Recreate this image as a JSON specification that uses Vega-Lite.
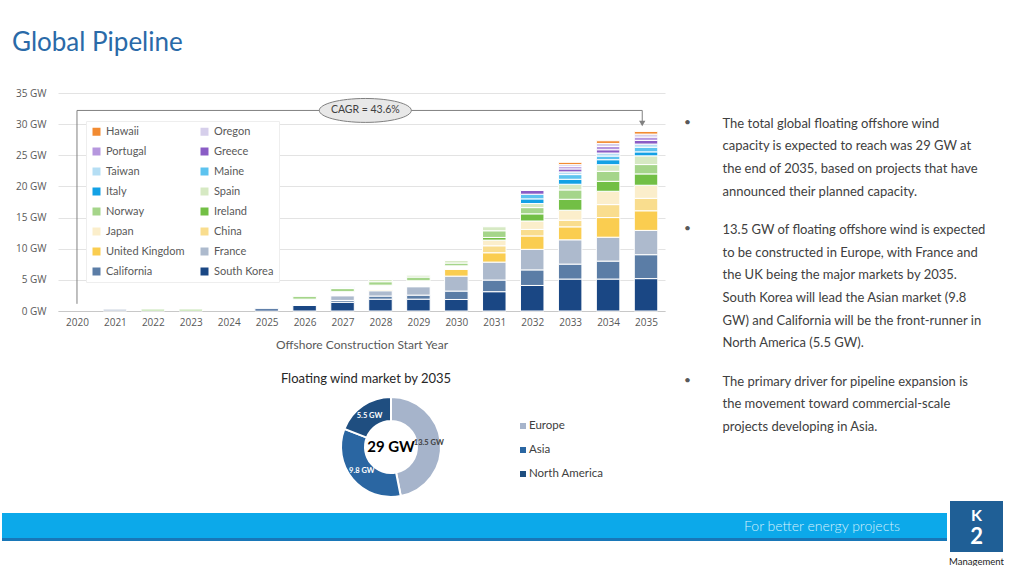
{
  "$schema": "https://vega.github.io/schema/vega-lite/v6.json",
  "background": "white",
  "padding": {"left": 0, "right": 0, "top": 30, "bottom": 0},
  "title": {"text": "Global Pipeline", "anchor": "start", "frame": "group", "dx": 10, "font": "Lato", "fontSize": 26, "fontWeight": "normal", "color": "#2A6AA8", "offset": 32},
  "config": {"view": {"stroke": null}, "font": "Lato", "text": {"font": "Lato"}},
  "datasets": {
    "regionOrder": [
      {"region": "South Korea", "rank": 1}, {"region": "California", "rank": 2}, {"region": "France", "rank": 3},
      {"region": "United Kingdom", "rank": 4}, {"region": "China", "rank": 5}, {"region": "Japan", "rank": 6},
      {"region": "Other", "rank": 7}, {"region": "Ireland", "rank": 8}, {"region": "Norway", "rank": 9},
      {"region": "Spain", "rank": 10}, {"region": "Italy", "rank": 11}, {"region": "Maine", "rank": 12},
      {"region": "Taiwan", "rank": 13}, {"region": "Greece", "rank": 14}, {"region": "Portugal", "rank": 15},
      {"region": "Oregon", "rank": 16}, {"region": "Hawaii", "rank": 17}
    ],
    "bars": [
      {"year": 2021, "region": "France", "gw": 0.3},
      {"year": 2022, "region": "Norway", "gw": 0.3},
      {"year": 2023, "region": "Norway", "gw": 0.3},
      {"year": 2025, "region": "South Korea", "gw": 0.35},
      {"year": 2026, "region": "South Korea", "gw": 0.9},
      {"year": 2026, "region": "Other", "gw": 1.0},
      {"year": 2026, "region": "Norway", "gw": 0.45},
      {"year": 2027, "region": "South Korea", "gw": 1.4},
      {"year": 2027, "region": "California", "gw": 0.3},
      {"year": 2027, "region": "France", "gw": 0.75},
      {"year": 2027, "region": "Other", "gw": 0.65},
      {"year": 2027, "region": "Norway", "gw": 0.5},
      {"year": 2027, "region": "Spain", "gw": 0.15},
      {"year": 2027, "region": "Taiwan", "gw": 0.15},
      {"year": 2028, "region": "South Korea", "gw": 1.9},
      {"year": 2028, "region": "California", "gw": 0.5},
      {"year": 2028, "region": "France", "gw": 0.85},
      {"year": 2028, "region": "United Kingdom", "gw": 0.15},
      {"year": 2028, "region": "Other", "gw": 0.75},
      {"year": 2028, "region": "Norway", "gw": 0.55},
      {"year": 2028, "region": "Spain", "gw": 0.35},
      {"year": 2029, "region": "South Korea", "gw": 1.9},
      {"year": 2029, "region": "California", "gw": 0.65},
      {"year": 2029, "region": "France", "gw": 1.35},
      {"year": 2029, "region": "Other", "gw": 0.95},
      {"year": 2029, "region": "Norway", "gw": 0.6},
      {"year": 2029, "region": "Spain", "gw": 0.3},
      {"year": 2030, "region": "South Korea", "gw": 1.85},
      {"year": 2030, "region": "California", "gw": 1.35},
      {"year": 2030, "region": "France", "gw": 2.4},
      {"year": 2030, "region": "United Kingdom", "gw": 1.1},
      {"year": 2030, "region": "Other", "gw": 0.55},
      {"year": 2030, "region": "Norway", "gw": 0.45},
      {"year": 2030, "region": "Spain", "gw": 0.4},
      {"year": 2031, "region": "South Korea", "gw": 3.1},
      {"year": 2031, "region": "California", "gw": 1.87},
      {"year": 2031, "region": "France", "gw": 2.88},
      {"year": 2031, "region": "United Kingdom", "gw": 1.5},
      {"year": 2031, "region": "China", "gw": 1.12},
      {"year": 2031, "region": "Japan", "gw": 0.91},
      {"year": 2031, "region": "Ireland", "gw": 0.43},
      {"year": 2031, "region": "Norway", "gw": 1.07},
      {"year": 2031, "region": "Spain", "gw": 0.64},
      {"year": 2032, "region": "South Korea", "gw": 4.1},
      {"year": 2032, "region": "California", "gw": 2.5},
      {"year": 2032, "region": "France", "gw": 3.3},
      {"year": 2032, "region": "United Kingdom", "gw": 2.15},
      {"year": 2032, "region": "China", "gw": 1.05},
      {"year": 2032, "region": "Japan", "gw": 1.35},
      {"year": 2032, "region": "Ireland", "gw": 1.15},
      {"year": 2032, "region": "Norway", "gw": 1.0},
      {"year": 2032, "region": "Spain", "gw": 0.65},
      {"year": 2032, "region": "Italy", "gw": 0.75},
      {"year": 2032, "region": "Maine", "gw": 0.75},
      {"year": 2032, "region": "Greece", "gw": 0.6},
      {"year": 2033, "region": "South Korea", "gw": 5.13},
      {"year": 2033, "region": "California", "gw": 2.4},
      {"year": 2033, "region": "France", "gw": 3.9},
      {"year": 2033, "region": "United Kingdom", "gw": 2.08},
      {"year": 2033, "region": "China", "gw": 1.07},
      {"year": 2033, "region": "Japan", "gw": 1.6},
      {"year": 2033, "region": "Ireland", "gw": 1.76},
      {"year": 2033, "region": "Norway", "gw": 1.5},
      {"year": 2033, "region": "Spain", "gw": 0.91},
      {"year": 2033, "region": "Italy", "gw": 0.8},
      {"year": 2033, "region": "Maine", "gw": 0.75},
      {"year": 2033, "region": "Taiwan", "gw": 0.43},
      {"year": 2033, "region": "Greece", "gw": 0.48},
      {"year": 2033, "region": "Portugal", "gw": 0.37},
      {"year": 2033, "region": "Oregon", "gw": 0.32},
      {"year": 2033, "region": "Hawaii", "gw": 0.37},
      {"year": 2034, "region": "South Korea", "gw": 5.13},
      {"year": 2034, "region": "California", "gw": 2.88},
      {"year": 2034, "region": "France", "gw": 3.84},
      {"year": 2034, "region": "United Kingdom", "gw": 3.15},
      {"year": 2034, "region": "China", "gw": 2.08},
      {"year": 2034, "region": "Japan", "gw": 2.14},
      {"year": 2034, "region": "Ireland", "gw": 1.6},
      {"year": 2034, "region": "Norway", "gw": 1.6},
      {"year": 2034, "region": "Spain", "gw": 1.07},
      {"year": 2034, "region": "Italy", "gw": 0.8},
      {"year": 2034, "region": "Maine", "gw": 0.59},
      {"year": 2034, "region": "Taiwan", "gw": 0.48},
      {"year": 2034, "region": "Greece", "gw": 0.53},
      {"year": 2034, "region": "Portugal", "gw": 0.53},
      {"year": 2034, "region": "Oregon", "gw": 0.48},
      {"year": 2034, "region": "Hawaii", "gw": 0.43},
      {"year": 2035, "region": "South Korea", "gw": 5.2},
      {"year": 2035, "region": "California", "gw": 3.84},
      {"year": 2035, "region": "France", "gw": 3.9},
      {"year": 2035, "region": "United Kingdom", "gw": 3.15},
      {"year": 2035, "region": "China", "gw": 2.0},
      {"year": 2035, "region": "Japan", "gw": 2.1},
      {"year": 2035, "region": "Ireland", "gw": 1.82},
      {"year": 2035, "region": "Norway", "gw": 1.5},
      {"year": 2035, "region": "Spain", "gw": 1.4},
      {"year": 2035, "region": "Italy", "gw": 0.64},
      {"year": 2035, "region": "Maine", "gw": 0.75},
      {"year": 2035, "region": "Taiwan", "gw": 0.5},
      {"year": 2035, "region": "Greece", "gw": 0.59},
      {"year": 2035, "region": "Portugal", "gw": 0.53},
      {"year": 2035, "region": "Oregon", "gw": 0.48},
      {"year": 2035, "region": "Hawaii", "gw": 0.43}
    ],
    "donut": [
      {"region": "Europe", "gw": 13.5, "label": "13.5 GW"},
      {"region": "Asia", "gw": 9.8, "label": "9.8 GW"},
      {"region": "North America", "gw": 5.5, "label": "5.5 GW"}
    ],
    "notes": [
      {"para": 1, "line": 1, "text": "The total global floating  offshore wind"},
      {"para": 1, "line": 2, "text": "capacity is expected to reach was 29 GW at"},
      {"para": 1, "line": 3, "text": "the end of 2035,  based on projects that have"},
      {"para": 1, "line": 4, "text": "announced their planned  capacity."},
      {"para": 2, "line": 1, "text": "13.5 GW of floating offshore wind is expected"},
      {"para": 2, "line": 2, "text": "to be constructed in Europe, with France and"},
      {"para": 2, "line": 3, "text": "the UK being the major markets by 2035."},
      {"para": 2, "line": 4, "text": "South Korea will lead the Asian market (9.8"},
      {"para": 2, "line": 5, "text": "GW) and California will be the front-runner in"},
      {"para": 2, "line": 6, "text": "North America (5.5 GW)."},
      {"para": 3, "line": 1, "text": "The primary driver for pipeline  expansion is"},
      {"para": 3, "line": 2, "text": "the  movement   toward  commercial-scale"},
      {"para": 3, "line": 3, "text": "projects developing in Asia."}
    ]
  },
  "vconcat": [
    {
      "hconcat": [
        {"width": 2, "height": 10, "data": {"values": []}, "mark": "point"},
        {
          "hconcat": [
            {
              "vconcat": [
                {
                  "width": 607,
                  "height": 218,
                  "layer": [
                    {
                      "data": {"name": "bars"},
                      "transform": [{"lookup": "region", "from": {"data": {"name": "regionOrder"}, "key": "region", "fields": ["rank"]}}],
                      "mark": {"type": "bar", "orient": "vertical", "width": 23.5, "stroke": "#FFFFFF", "strokeWidth": 1},
                      "encoding": {
                        "x": {"field": "year", "type": "quantitative", "scale": {"domain": [2019.5, 2035.5], "nice": false, "zero": false, "padding": 0},
                          "axis": {"values": [2020, 2021, 2022, 2023, 2024, 2025, 2026, 2027, 2028, 2029, 2030, 2031, 2032, 2033, 2034, 2035], "tickCount": 40, "format": "d", "grid": false, "ticks": false, "tickSize": 0, "domain": true, "domainColor": "#C8C8C8", "labelFont": "Open Sans", "labelFontSize": 10, "labelColor": "#595959", "labelPadding": 6, "labelFlush": false, "labelOverlap": false, "title": "Offshore Construction Start Year", "titleFont": "Lato", "titleFontSize": 12, "titleFontWeight": "normal", "titleColor": "#595959", "titlePadding": 12}},
                        "y": {"field": "gw", "type": "quantitative", "stack": "zero", "scale": {"domain": [0, 35], "nice": false},
                          "axis": {"values": [0, 5, 10, 15, 20, 25, 30, 35], "tickCount": 40, "labelExpr": "datum.value + ' GW'", "grid": true, "gridColor": "#E3E3E3", "ticks": false, "tickSize": 0, "domain": false, "labelFont": "Open Sans", "labelFontSize": 10, "labelColor": "#595959", "labelPadding": 12, "labelOverlap": false, "title": null}},
                        "color": {"field": "region", "type": "nominal",
                          "scale": {
                            "domain": ["Hawaii", "Oregon", "Portugal", "Greece", "Taiwan", "Maine", "Italy", "Spain", "Norway", "Ireland", "Japan", "China", "United Kingdom", "France", "California", "South Korea", "Other"],
                            "range": ["#F28B32", "#D6CFEB", "#B697DE", "#8A5CC5", "#B5DEF4", "#5DC3EF", "#13A1E5", "#D6E9C3", "#A5D58A", "#72BF45", "#FBEECB", "#F9DD8E", "#FACD50", "#ADBACD", "#5B7DA6", "#1A4784", "#FFFFFF"]
                          },
                          "legend": {"title": null, "orient": "top-left", "offset": 28, "columns": 2, "direction": "horizontal", "gridAlign": "all",
                            "values": ["Hawaii", "Oregon", "Portugal", "Greece", "Taiwan", "Maine", "Italy", "Spain", "Norway", "Ireland", "Japan", "China", "United Kingdom", "France", "California", "South Korea"],
                            "symbolType": "square", "symbolSize": 64, "symbolStrokeWidth": 0, "labelFont": "Lato", "labelFontSize": 11, "labelColor": "#595959", "labelOffset": 4, "fillColor": "#FFFFFF", "strokeColor": "#EEEEEE", "padding": 5, "rowPadding": 8, "columnPadding": 14}},
                        "order": {"field": "rank", "type": "quantitative"}
                      }
                    },
                    {
                      "data": {"values": [{}]},
                      "mark": {"type": "rule", "color": "#808080", "strokeWidth": 1},
                      "encoding": {"x": {"datum": 2020, "type": "quantitative"}, "y": {"datum": 1.15, "type": "quantitative"}, "y2": {"datum": 32.2}}
                    },
                    {
                      "data": {"values": [{}]},
                      "mark": {"type": "rule", "color": "#808080", "strokeWidth": 1},
                      "encoding": {"x": {"datum": 2020, "type": "quantitative"}, "x2": {"datum": 2034.9}, "y": {"datum": 32.2, "type": "quantitative"}}
                    },
                    {
                      "data": {"values": [{}]},
                      "mark": {"type": "rule", "color": "#808080", "strokeWidth": 1},
                      "encoding": {"x": {"datum": 2034.9, "type": "quantitative"}, "y": {"datum": 32.2, "type": "quantitative"}, "y2": {"datum": 30.3}}
                    },
                    {
                      "data": {"values": [{}]},
                      "mark": {"type": "point", "shape": "triangle-down", "filled": true, "color": "#808080", "opacity": 1, "size": 40},
                      "encoding": {"x": {"datum": 2034.9, "type": "quantitative"}, "y": {"datum": 30.1, "type": "quantitative"}}
                    },
                    {
                      "data": {"values": [{}]},
                      "mark": {"type": "point", "shape": "M-1,0A1,0.26,0,1,0,1,0A1,0.26,0,1,0,-1,0Z", "size": 8464, "filled": true, "fill": "#E8E8E8", "stroke": "#808080", "strokeWidth": 1, "opacity": 1},
                      "encoding": {"x": {"datum": 2027.6, "type": "quantitative"}, "y": {"datum": 32.2, "type": "quantitative"}}
                    },
                    {
                      "data": {"values": [{"t": "CAGR = 43.6%"}]},
                      "mark": {"type": "text", "fontSize": 10.5, "color": "#404040", "font": "Lato"},
                      "encoding": {"x": {"datum": 2027.6, "type": "quantitative"}, "y": {"datum": 32.2, "type": "quantitative"}, "text": {"field": "t"}}
                    }
                  ]
                },
                {
                  "hconcat": [
                    {"width": 164, "height": 10, "data": {"values": []}, "mark": "point"},
                    {
                      "width": 100,
                      "height": 100,
                      "data": {"name": "donut"},
                      "title": {"text": "Floating wind market by 2035", "font": "Lato", "fontSize": 13, "fontWeight": "normal", "color": "#262626", "dx": -25, "offset": 7},
                      "layer": [
                        {
                          "mark": {"type": "arc", "outerRadius": 50, "innerRadius": 26, "stroke": "#FFFFFF", "strokeWidth": 2},
                          "encoding": {
                            "theta": {"field": "gw", "type": "quantitative", "stack": true},
                            "color": {"field": "region", "type": "nominal", "scale": {"domain": ["Europe", "Asia", "North America"], "range": ["#A6B4CB", "#2A66A2", "#1F4E80"]}, "legend": null},
                            "order": {"field": "gw", "type": "quantitative", "sort": "descending"}
                          }
                        },
                        {
                          "mark": {"type": "text", "radius": 38, "font": "Lato", "fontSize": 7.5, "fontWeight": "bold"},
                          "encoding": {
                            "theta": {"field": "gw", "type": "quantitative", "stack": true},
                            "text": {"field": "label"},
                            "color": {"condition": {"test": "datum.region === 'Europe'", "value": "#404040"}, "value": "#FFFFFF"},
                            "order": {"field": "gw", "type": "quantitative", "sort": "descending"}
                          }
                        },
                        {
                          "data": {"values": [{"t": "29 GW"}]},
                          "mark": {"type": "text", "font": "Lato", "fontSize": 15, "fontWeight": "bold", "color": "#000000"},
                          "encoding": {"text": {"field": "t"}}
                        }
                      ]
                    },
                    {
                      "vconcat": [
                        {"width": 10, "height": 1, "data": {"values": []}, "mark": "point"},
                        {
                          "width": 26,
                          "height": 72,
                          "data": {"name": "donut"},
                          "layer": [
                            {
                              "mark": {"type": "point", "shape": "square", "filled": true, "size": 36, "opacity": 1},
                              "encoding": {
                                "y": {"field": "region", "type": "nominal", "sort": ["Europe", "Asia", "North America"], "axis": null},
                                "color": {"field": "region", "type": "nominal", "scale": {"domain": ["Europe", "Asia", "North America"], "range": ["#A6B4CB", "#2A66A2", "#1F4E80"]}, "legend": null}
                              }
                            },
                            {
                              "mark": {"type": "text", "align": "left", "dx": 6, "font": "Lato", "fontSize": 11.5, "color": "#404040"},
                              "encoding": {
                                "y": {"field": "region", "type": "nominal", "sort": ["Europe", "Asia", "North America"], "axis": null},
                                "text": {"field": "region"}
                              }
                            }
                          ]
                        }
                      ],
                      "spacing": 16
                    }
                  ],
                  "spacing": 58
                }
              ],
              "spacing": 23,
              "resolve": {"scale": {"color": "independent"}}
            },
            {
              "vconcat": [
                {"width": 10, "height": 3.3, "data": {"values": []}, "mark": "point"},
                {
                  "width": 262, "height": 90.4,
                  "data": {"name": "notes"},
                  "transform": [{"filter": "datum.para == 1"}],
                  "layer": [
                    {"mark": {"type": "text", "align": "left", "baseline": "middle", "font": "Lato", "fontSize": 13, "color": "#404040"},
                     "encoding": {"x": {"datum": 0, "type": "quantitative", "scale": {"domain": [0, 1]}, "axis": null}, "y": {"field": "line", "type": "ordinal", "axis": null}, "text": {"field": "text"}}},
                    {"transform": [{"filter": "datum.line == 1"}],
                     "mark": {"type": "text", "align": "center", "baseline": "middle", "fontSize": 12, "color": "#595959", "dx": -35, "dy": -2},
                     "encoding": {"x": {"datum": 0, "type": "quantitative", "scale": {"domain": [0, 1]}, "axis": null}, "y": {"field": "line", "type": "ordinal", "axis": null}, "text": {"value": "•"}}}
                  ]
                },
                {
                  "width": 262, "height": 135.6,
                  "data": {"name": "notes"},
                  "transform": [{"filter": "datum.para == 2"}],
                  "layer": [
                    {"mark": {"type": "text", "align": "left", "baseline": "middle", "font": "Lato", "fontSize": 13, "color": "#404040"},
                     "encoding": {"x": {"datum": 0, "type": "quantitative", "scale": {"domain": [0, 1]}, "axis": null}, "y": {"field": "line", "type": "ordinal", "axis": null}, "text": {"field": "text"}}},
                    {"transform": [{"filter": "datum.line == 1"}],
                     "mark": {"type": "text", "align": "center", "baseline": "middle", "fontSize": 12, "color": "#595959", "dx": -35, "dy": -2},
                     "encoding": {"x": {"datum": 0, "type": "quantitative", "scale": {"domain": [0, 1]}, "axis": null}, "y": {"field": "line", "type": "ordinal", "axis": null}, "text": {"value": "•"}}}
                  ]
                },
                {
                  "width": 262, "height": 67.8,
                  "data": {"name": "notes"},
                  "transform": [{"filter": "datum.para == 3"}],
                  "layer": [
                    {"mark": {"type": "text", "align": "left", "baseline": "middle", "font": "Lato", "fontSize": 13, "color": "#404040"},
                     "encoding": {"x": {"datum": 0, "type": "quantitative", "scale": {"domain": [0, 1]}, "axis": null}, "y": {"field": "line", "type": "ordinal", "axis": null}, "text": {"field": "text"}}},
                    {"transform": [{"filter": "datum.line == 1"}],
                     "mark": {"type": "text", "align": "center", "baseline": "middle", "fontSize": 12, "color": "#595959", "dx": -35, "dy": -2},
                     "encoding": {"x": {"datum": 0, "type": "quantitative", "scale": {"domain": [0, 1]}, "axis": null}, "y": {"field": "line", "type": "ordinal", "axis": null}, "text": {"value": "•"}}}
                  ]
                }
              ],
              "spacing": 15.4
            }
          ],
          "spacing": 18.5
        }
      ],
      "spacing": 11
    },
    {
      "hconcat": [
        {
          "vconcat": [
            {"width": 10, "height": 1, "data": {"values": []}, "mark": "point"},
            {
              "width": 945,
              "height": 28,
              "view": {"fill": "#0CA9EA", "stroke": null},
              "data": {"values": [{"t": "For better energy projects"}]},
              "layer": [
                {"mark": {"type": "rule", "color": "#1877B8", "strokeWidth": 3},
                 "encoding": {"y": {"datum": 0.05, "type": "quantitative", "scale": {"domain": [0, 1]}, "axis": null}}},
                {"mark": {"type": "text", "align": "right", "dx": -47, "font": "Lato", "fontWeight": 300, "fontSize": 14, "color": "#D4F0FC"},
                 "encoding": {"x": {"datum": 1, "type": "quantitative", "scale": {"domain": [0, 1]}, "axis": null}, "text": {"field": "t"}}}
              ]
            }
          ],
          "spacing": 11
        },
        {
          "width": 53,
          "height": 51,
          "view": {"fill": "#1F5F96", "stroke": null},
          "data": {"values": [{"k": "K", "two": "2", "m": "Management"}]},
          "layer": [
            {"mark": {"type": "text", "font": "Lato", "fontSize": 16, "fontWeight": "bold", "color": "#FFFFFF", "dy": -11}, "encoding": {"text": {"field": "k"}}},
            {"mark": {"type": "text", "font": "Lato", "fontSize": 22, "fontWeight": "bold", "color": "#FFFFFF", "dy": 10}, "encoding": {"text": {"field": "two"}}},
            {"mark": {"type": "text", "font": "Lato", "fontSize": 9.5, "color": "#222222", "dy": 35}, "encoding": {"text": {"field": "m"}}}
          ]
        }
      ],
      "spacing": 0
    }
  ],
  "spacing": 0,
  "resolve": {"scale": {"color": "independent"}}
}
